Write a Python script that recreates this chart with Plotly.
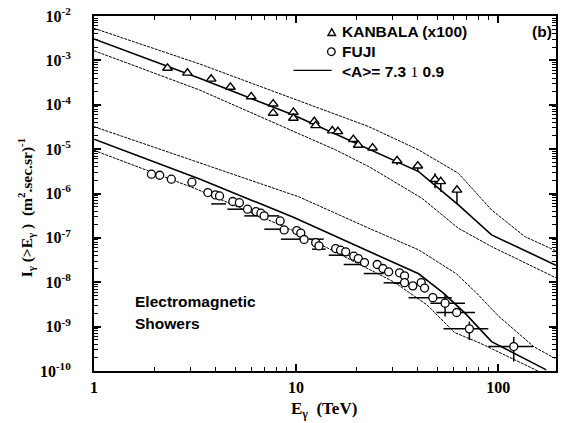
import plotly.graph_objects as go

# ---------------- data ----------------
kan_E = [2.31, 2.90, 3.8, 4.73, 6.0, 7.7, 7.7, 9.7, 9.7, 12.3, 12.5, 15.1, 16.1,
         19.2, 20.3, 23.9, 31.6, 40.0, 48.7, 52.0, 62.5]
kan_I = [6.7e-4, 5.2e-4, 3.8e-4, 2.5e-4, 1.52e-4, 1.05e-4, 6.5e-5, 6.8e-5, 5.0e-5,
         4.2e-5, 3.4e-5, 2.6e-5, 2.5e-5, 1.66e-5, 1.23e-5, 1.07e-5, 5.5e-6, 4.2e-6,
         2.1e-6, 1.86e-6, 1.2e-6]
kan_Ihi = [None] * 16 + [6.8e-6, 4.8e-6, 2.86e-6, 2.4e-6, 1.2e-6]
kan_Ilo = [None] * 16 + [4.4e-6, 3.1e-6, 1.31e-6, 1.1e-6, 5.8e-7]

fuji_E = [1.924, 2.114, 2.414, 3.05, 3.66, 3.99, 4.18, 4.86, 5.24, 5.75, 6.33, 6.70,
          6.95, 8.34, 8.73, 10.08, 10.55, 10.95, 12.5, 12.98, 15.7, 16.6, 17.6, 19.3,
          20.3, 21.8, 25.2, 26.9, 28.7, 32.5, 34.4, 34.4, 37.8, 41.6, 43.2, 47.5,
          54.6, 62.3, 72.0, 119.4]
fuji_I = [2.72e-6, 2.58e-6, 2.10e-6, 1.80e-6, 1.05e-6, 9.3e-7, 8.8e-7, 6.6e-7, 6.2e-7,
          4.43e-7, 3.91e-7, 3.60e-7, 3.13e-7, 2.41e-7, 1.51e-7, 1.46e-7, 1.28e-7,
          9.2e-8, 7.8e-8, 6.6e-8, 5.74e-8, 5.28e-8, 4.84e-8, 3.87e-8, 3.42e-8, 2.78e-8,
          2.51e-8, 2.04e-8, 1.72e-8, 1.63e-8, 1.39e-8, 9.8e-9, 8.3e-9, 9.8e-9, 7.4e-9,
          4.5e-9, 3.38e-9, 2.08e-9, 8.9e-10, 3.56e-10]
fuji_Elo = [None] * 35 + [36.0, 46.1, 49.5, 53.6, 89.3]
fuji_Ehi = [None] * 35 + [58.9, 68.5, 76.8, 89.3, 148.7]
fuji_Ihi = [None] * 36 + [5.2e-9, None, 1.30e-9, 5.8e-10]
fuji_Ilo = [None] * 36 + [1.69e-9, None, 5.0e-10, 1.64e-10]

# FUJI energy-bin bars drawn without visible points
bin_Elo = [3.80, 4.57, 5.54, 7.09, 6.96, 8.41, 11.6, 12.0, 14.5, 17.2, 21.6, 27.1, 30.4]
bin_Ehi = [4.50, 5.54, 6.57, 8.25, 8.73, 10.55, 13.7, 14.0, 18.2, 22.5, 27.1, 34.0, 35.3]
bin_I = [5.83e-7, 4.43e-7, 3.13e-7, 3.13e-7, 1.57e-7, 9.35e-8, 9.35e-8, 5.56e-8,
         4.07e-8, 2.51e-8, 1.57e-8, 9.7e-9, 9.5e-9]

# model curves  <A> = 7.3 and its +/- band
kan_up_E = [1, 3.33, 22.9, 40.4, 63.5, 92.7, 135.4, 193]
kan_up_I = [5.28e-3, 8.3e-4, 3.21e-5, 9.6e-6, 2.86e-6, 4.27e-7, 1.07e-7, 5.1e-8]
kan_mid_E = [1, 3.33, 9.70, 22.9, 40.4, 63.5, 92.7, 193]
kan_mid_I = [3.03e-3, 3.95e-4, 5.89e-5, 9.95e-6, 3.11e-6, 5.53e-7, 1.17e-7, 2.42e-8]
kan_lo_E = [1, 3.33, 15.69, 22.9, 41.9, 63.5, 92.7, 193]
kan_lo_I = [1.65e-3, 2.15e-4, 9.6e-6, 4.04e-6, 7.83e-7, 1.65e-7, 6.37e-8, 1.26e-8]

fuji_up_E = [1, 3.33, 10.35, 22.9, 40.4, 62.1, 77.9, 100, 125.5, 150.4, 193]
fuji_up_I = [3.21e-5, 4.89e-6, 8.38e-7, 1.65e-7, 5.37e-8, 1.55e-8, 5.8e-9,
             1.75e-9, 7.2e-10, 3.5e-10, 1.88e-10]
fuji_mid_E = [1, 3.33, 9.70, 22.9, 40.4, 53.6, 68.5, 92.7, 173]
fuji_mid_I = [1.67e-5, 2.13e-6, 2.90e-7, 5.09e-8, 1.55e-8, 5.7e-9, 2.01e-9, 4.6e-10, 1.06e-10]
fuji_lo_E = [1, 3.145, 10, 30.4, 44.4, 60.7, 81.3, 114.2, 157.4]
fuji_lo_I = [9.4e-6, 1.31e-6, 1.36e-7, 1.02e-8, 3.1e-9, 7.4e-10, 4.25e-10, 1.98e-10, 1.0e-10]

x_ticks = [1, 10, 100]
x_ticktext = ["1", "10", "100"]
y_ticks = [1e-10, 1e-9, 1e-8, 1e-7, 1e-6, 1e-5, 1e-4, 1e-3, 1e-2]
y_ticktext = ["10<sup>-10</sup>", "10<sup>-9</sup>", "10<sup>-8</sup>", "10<sup>-7</sup>",
              "10<sup>-6</sup>", "10<sup>-5</sup>", "10<sup>-4</sup>", "10<sup>-3</sup>",
              "10<sup>-2</sup>"]

# ---------------- figure ----------------
W, H = 561, 423
ML, MR, MT, MB = 94, 3, 16, 52
PW, PH = W - ML - MR, H - MT - MB


def px(x):
    return (x - ML) / PW


def py(y):
    return (H - MB - y) / PH


fig = go.Figure()

band = dict(color="black", width=1, dash="3px,1px")
mid = dict(color="black", width=1.6)
for E, I, ln in [(kan_up_E, kan_up_I, band), (kan_mid_E, kan_mid_I, mid),
                 (kan_lo_E, kan_lo_I, band), (fuji_up_E, fuji_up_I, band),
                 (fuji_mid_E, fuji_mid_I, mid), (fuji_lo_E, fuji_lo_I, band)]:
    fig.add_trace(go.Scatter(x=E, y=I, mode="lines", line=ln, showlegend=False,
                             hoverinfo="skip"))

# bin bars
bx, by = [], []
for lo, hi, v in zip(bin_Elo, bin_Ehi, bin_I):
    bx += [lo, hi, None]
    by += [v, v, None]
fig.add_trace(go.Scatter(x=bx, y=by, mode="lines", line=dict(color="black", width=1.5),
                         showlegend=False, hoverinfo="skip"))


def err(vals, ref, upper):
    out = []
    for v, r in zip(vals, ref):
        if v is None:
            out.append(0)
        else:
            out.append(v - r if upper else r - v)
    return out


fig.add_trace(go.Scatter(
    x=kan_E, y=kan_I, mode="markers",
    marker=dict(symbol="triangle-up", size=8.5, color="white",
                line=dict(color="black", width=1.4)),
    error_y=dict(type="data", symmetric=False, array=err(kan_Ihi, kan_I, True),
                 arrayminus=err(kan_Ilo, kan_I, False), width=0, thickness=1.5,
                 color="black"),
    showlegend=False))

fig.add_trace(go.Scatter(
    x=fuji_E, y=fuji_I, mode="markers",
    marker=dict(symbol="circle", size=8, color="white",
                line=dict(color="black", width=1.3)),
    error_x=dict(type="data", symmetric=False, array=err(fuji_Ehi, fuji_E, True),
                 arrayminus=err(fuji_Elo, fuji_E, False), width=0, thickness=1.5,
                 color="black"),
    error_y=dict(type="data", symmetric=False, array=err(fuji_Ihi, fuji_I, True),
                 arrayminus=err(fuji_Ilo, fuji_I, False), width=0, thickness=1.5,
                 color="black"),
    showlegend=False))

minor_x = [m * d for d in [1, 10, 100] for m in range(2, 10)]
minor_y = [m * 10.0 ** e for e in range(-10, -2) for m in range(2, 10)]

serif = "Liberation Serif"
sans = "Liberation Sans"

axis_common = dict(type="log", showline=True, linecolor="black", linewidth=2,
                   mirror="allticks", ticks="inside", ticklen=7, tickwidth=1.5,
                   tickcolor="black", showgrid=False, zeroline=False,
                   tickfont=dict(family=serif, size=16, color="black"))

fig.update_xaxes(range=[0, 2.286], tickvals=x_ticks,
                 ticktext=["<b>%s</b>" % t for t in x_ticktext],
                 minor=dict(tickvals=minor_x, ticks="inside", ticklen=4, tickwidth=1,
                            tickcolor="black", showgrid=False),
                 ticklabelstandoff=1, **axis_common)
fig.update_yaxes(range=[-10, -2], tickvals=y_ticks,
                 ticktext=["<b>%s</b>" % t for t in y_ticktext],
                 minor=dict(tickvals=minor_y, ticks="inside", ticklen=4, tickwidth=1,
                            tickcolor="black", showgrid=False),
                 ticklabelstandoff=18, **axis_common)

# legend drawn by hand
shapes = []
tri = "M %f,%f L %f,%f L %f,%f Z" % (px(329.0), py(35.5), px(336.6), py(35.5),
                                     px(332.8), py(28.6))
shapes.append(dict(type="path", xref="paper", yref="paper", path=tri,
                   line=dict(color="black", width=1.4), fillcolor="white"))
shapes.append(dict(type="circle", xref="paper", yref="paper", x0=px(328.6), x1=px(336.2),
                   y0=py(55.5), y1=py(47.9), line=dict(color="black", width=1.3),
                   fillcolor="white"))
shapes.append(dict(type="line", xref="paper", yref="paper", x0=px(294.3), x1=px(332.7),
                   y0=py(70.3), y1=py(70.3), line=dict(color="black", width=1.3)))

ann = []
lf = dict(family=sans, size=15.5, color="black")
ann.append(dict(x=px(341), y=py(31.7), text="<b>KANBALA (x100)</b>", font=lf))
ann.append(dict(x=px(341), y=py(51.7), text="<b>FUJI</b>", font=lf))
ann.append(dict(x=px(341), y=py(71), font=lf,
                text="<b>&lt;A&gt;= 7.3 </b><span style='font-family:Liberation Serif'>1</span><b> 0.9</b>"))
ann.append(dict(x=px(532), y=py(31.7), text="<b>(b)</b>", font=lf))
ann.append(dict(x=px(133), y=py(301.7), text="<b>Electromagnetic</b>", font=lf))
ann.append(dict(x=px(133), y=py(323.3), text="<b>Showers</b>", font=lf))
for a in ann:
    a.update(xref="paper", yref="paper", xanchor="left", yanchor="middle", showarrow=False)

ann.append(dict(x=px(325), y=py(410), xref="paper", yref="paper", showarrow=False,
                xanchor="center", yanchor="middle",
                text="<b>E<sub>γ</sub>  (TeV)</b>",
                font=dict(family=serif, size=17, color="black")))
ann.append(dict(x=px(26), y=py(208), xref="paper", yref="paper", showarrow=False,
                xanchor="center", yanchor="middle", textangle=-90,
                text="<b>I<sub>γ</sub> (&gt;E<sub>γ</sub> )  (m<sup>2</sup>.sec.sr)<sup>-1</sup></b>",
                font=dict(family=serif, size=15.5, color="black")))

fig.update_layout(width=W, height=H, autosize=False,
                  margin=dict(l=ML, r=MR, t=MT, b=MB, pad=0),
                  paper_bgcolor="white", plot_bgcolor="white",
                  shapes=shapes, annotations=ann, showlegend=False)

fig.write_html("out.html", config={"displayModeBar": False},
               post_script="document.body.style.margin='0px';document.body.style.overflow='hidden';")
